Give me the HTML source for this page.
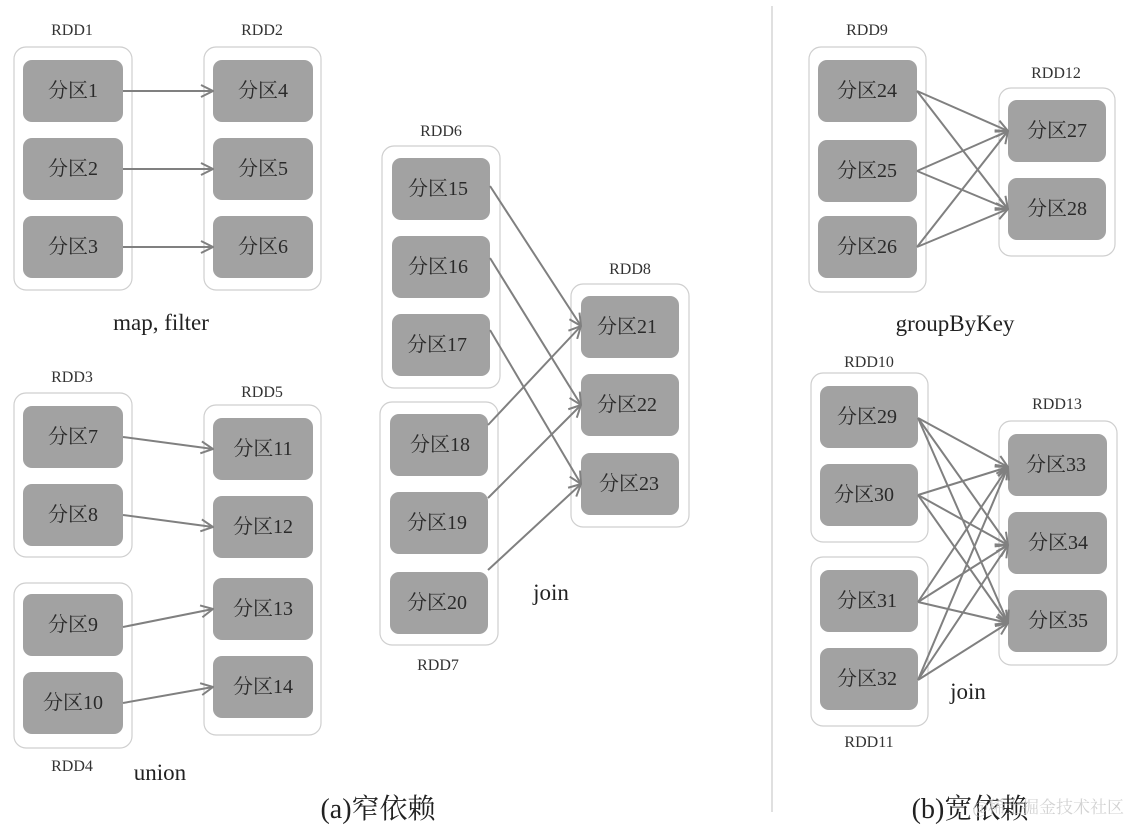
<!DOCTYPE html>
<html><head><meta charset="utf-8"><style>
html,body{margin:0;padding:0;background:#fff;}
svg{display:block;}
text{font-family:"Liberation Serif","Noto Serif CJK SC",serif;fill:#222;}
.p{font-size:20px;text-anchor:middle;dominant-baseline:central;fill:#2a2a2a;}
.l{font-size:16px;text-anchor:middle;fill:#333;}
.c{fill:none;stroke:#cfcfcf;stroke-width:1.2;}
.b{fill:#a2a2a2;}
.a{stroke:#808080;stroke-width:2;fill:none;marker-end:url(#m);}
</style></head><body>
<svg width="1130" height="825" viewBox="0 0 1130 825" xmlns="http://www.w3.org/2000/svg">
<defs><marker id="m" viewBox="0 0 14 14" refX="13" refY="7" markerWidth="14" markerHeight="14" markerUnits="userSpaceOnUse" orient="auto"><path d="M1,1 L13,7 L1,13" fill="none" stroke="#808080" stroke-width="2"/></marker></defs>
<line x1="772" y1="6" x2="772" y2="812" stroke="#ccc" stroke-width="1.2"/>

<!-- RDD1/RDD2 -->
<text class="l" x="72" y="35">RDD1</text><text class="l" x="262" y="35">RDD2</text>
<rect class="c" x="14" y="47" width="118" height="243" rx="12"/>
<rect class="c" x="204" y="47" width="117" height="243" rx="12"/>
<g class="b">
<rect x="23" y="60" width="100" height="62" rx="9"/><rect x="23" y="138" width="100" height="62" rx="9"/><rect x="23" y="216" width="100" height="62" rx="9"/>
<rect x="213" y="60" width="100" height="62" rx="9"/><rect x="213" y="138" width="100" height="62" rx="9"/><rect x="213" y="216" width="100" height="62" rx="9"/>
</g>
<text class="p" x="73" y="91">分区1</text><text class="p" x="73" y="169">分区2</text><text class="p" x="73" y="247">分区3</text>
<text class="p" x="263" y="91">分区4</text><text class="p" x="263" y="169">分区5</text><text class="p" x="263" y="247">分区6</text>
<line class="a" x1="123" y1="91" x2="213" y2="91"/><line class="a" x1="123" y1="169" x2="213" y2="169"/><line class="a" x1="123" y1="247" x2="213" y2="247"/>
<text x="161" y="330" style="font-size:23px;text-anchor:middle">map, filter</text>

<!-- RDD3/4/5 -->
<text class="l" x="72" y="382">RDD3</text><text class="l" x="262" y="397">RDD5</text><text class="l" x="72" y="771">RDD4</text>
<rect class="c" x="14" y="393" width="118" height="164" rx="12"/>
<rect class="c" x="14" y="583" width="118" height="165" rx="12"/>
<rect class="c" x="204" y="405" width="117" height="330" rx="12"/>
<g class="b">
<rect x="23" y="406" width="100" height="62" rx="9"/><rect x="23" y="484" width="100" height="62" rx="9"/>
<rect x="23" y="594" width="100" height="62" rx="9"/><rect x="23" y="672" width="100" height="62" rx="9"/>
<rect x="213" y="418" width="100" height="62" rx="9"/><rect x="213" y="496" width="100" height="62" rx="9"/>
<rect x="213" y="578" width="100" height="62" rx="9"/><rect x="213" y="656" width="100" height="62" rx="9"/>
</g>
<text class="p" x="73" y="437">分区7</text><text class="p" x="73" y="515">分区8</text><text class="p" x="73" y="625">分区9</text><text class="p" x="73" y="703">分区10</text>
<text class="p" x="263" y="449">分区11</text><text class="p" x="263" y="527">分区12</text><text class="p" x="263" y="609">分区13</text><text class="p" x="263" y="687">分区14</text>
<line class="a" x1="123" y1="437" x2="213" y2="449"/><line class="a" x1="123" y1="515" x2="213" y2="527"/>
<line class="a" x1="123" y1="627" x2="213" y2="609"/><line class="a" x1="123" y1="703" x2="213" y2="687"/>
<text x="160" y="780" style="font-size:23px;text-anchor:middle">union</text>

<!-- RDD6/7/8 -->
<text class="l" x="441" y="136">RDD6</text><text class="l" x="438" y="670">RDD7</text><text class="l" x="630" y="274">RDD8</text>
<rect class="c" x="382" y="146" width="118" height="242" rx="12"/>
<rect class="c" x="380" y="402" width="118" height="243" rx="12"/>
<rect class="c" x="571" y="284" width="118" height="243" rx="12"/>
<g class="b">
<rect x="392" y="158" width="98" height="62" rx="9"/><rect x="392" y="236" width="98" height="62" rx="9"/><rect x="392" y="314" width="98" height="62" rx="9"/>
<rect x="390" y="414" width="98" height="62" rx="9"/><rect x="390" y="492" width="98" height="62" rx="9"/><rect x="390" y="572" width="98" height="62" rx="9"/>
<rect x="581" y="296" width="98" height="62" rx="9"/><rect x="581" y="374" width="98" height="62" rx="9"/><rect x="581" y="453" width="98" height="62" rx="9"/>
</g>
<text class="p" x="438" y="189">分区15</text><text class="p" x="438" y="267">分区16</text><text class="p" x="437" y="345">分区17</text>
<text class="p" x="440" y="445">分区18</text><text class="p" x="437" y="523">分区19</text><text class="p" x="437" y="603">分区20</text>
<text class="p" x="627" y="327">分区21</text><text class="p" x="627" y="405">分区22</text><text class="p" x="629" y="484">分区23</text>
<line class="a" x1="490" y1="186" x2="581" y2="326"/><line class="a" x1="490" y1="258" x2="581" y2="405"/><line class="a" x1="490" y1="330" x2="581" y2="484"/>
<line class="a" x1="488" y1="425" x2="581" y2="326"/><line class="a" x1="488" y1="498" x2="581" y2="405"/><line class="a" x1="488" y1="570" x2="581" y2="484"/>
<text x="551" y="600" style="font-size:23px;text-anchor:middle">join</text>

<!-- RDD9/12 -->
<text class="l" x="867" y="35">RDD9</text><text class="l" x="1056" y="78">RDD12</text>
<rect class="c" x="809" y="47" width="117" height="245" rx="12"/>
<rect class="c" x="999" y="88" width="116" height="168" rx="12"/>
<g class="b">
<rect x="818" y="60" width="99" height="62" rx="9"/><rect x="818" y="140" width="99" height="62" rx="9"/><rect x="818" y="216" width="99" height="62" rx="9"/>
<rect x="1008" y="100" width="98" height="62" rx="9"/><rect x="1008" y="178" width="98" height="62" rx="9"/>
</g>
<text class="p" x="867" y="91">分区24</text><text class="p" x="867" y="171">分区25</text><text class="p" x="867" y="247">分区26</text>
<text class="p" x="1057" y="131">分区27</text><text class="p" x="1057" y="209">分区28</text>
<line class="a" x1="917" y1="91" x2="1008" y2="131"/><line class="a" x1="917" y1="91" x2="1008" y2="209"/>
<line class="a" x1="917" y1="171" x2="1008" y2="131"/><line class="a" x1="917" y1="171" x2="1008" y2="209"/>
<line class="a" x1="917" y1="247" x2="1008" y2="131"/><line class="a" x1="917" y1="247" x2="1008" y2="209"/>
<text x="955" y="331" style="font-size:23px;text-anchor:middle">groupByKey</text>

<!-- RDD10/11/13 -->
<text class="l" x="869" y="367">RDD10</text><text class="l" x="869" y="747">RDD11</text><text class="l" x="1057" y="409">RDD13</text>
<rect class="c" x="811" y="373" width="117" height="169" rx="12"/>
<rect class="c" x="811" y="557" width="117" height="169" rx="12"/>
<rect class="c" x="999" y="421" width="118" height="244" rx="12"/>
<g class="b">
<rect x="820" y="386" width="98" height="62" rx="9"/><rect x="820" y="464" width="98" height="62" rx="9"/>
<rect x="820" y="570" width="98" height="62" rx="9"/><rect x="820" y="648" width="98" height="62" rx="9"/>
<rect x="1008" y="434" width="99" height="62" rx="9"/><rect x="1008" y="512" width="99" height="62" rx="9"/><rect x="1008" y="590" width="99" height="62" rx="9"/>
</g>
<text class="p" x="867" y="417">分区29</text><text class="p" x="864" y="495">分区30</text><text class="p" x="867" y="601">分区31</text><text class="p" x="867" y="679">分区32</text>
<text class="p" x="1056" y="465">分区33</text><text class="p" x="1058" y="543">分区34</text><text class="p" x="1058" y="621">分区35</text>
<g>
<line class="a" x1="918" y1="418" x2="1008" y2="467"/><line class="a" x1="918" y1="418" x2="1008" y2="545"/><line class="a" x1="918" y1="418" x2="1008" y2="623"/>
<line class="a" x1="918" y1="495" x2="1008" y2="467"/><line class="a" x1="918" y1="495" x2="1008" y2="545"/><line class="a" x1="918" y1="495" x2="1008" y2="623"/>
<line class="a" x1="918" y1="602" x2="1008" y2="467"/><line class="a" x1="918" y1="602" x2="1008" y2="545"/><line class="a" x1="918" y1="602" x2="1008" y2="623"/>
<line class="a" x1="918" y1="680" x2="1008" y2="467"/><line class="a" x1="918" y1="680" x2="1008" y2="545"/><line class="a" x1="918" y1="680" x2="1008" y2="623"/>
</g>
<text x="968" y="699" style="font-size:23px;text-anchor:middle">join</text>

<text x="378" y="818" style="font-size:28px;text-anchor:middle">(a)窄依赖</text>
<text x="970" y="818" style="font-size:28px;text-anchor:middle">(b)宽依赖</text>
<text x="1124" y="813" style="font-size:17px;text-anchor:end;fill:#c8c8c8;opacity:0.8">@稀土掘金技术社区</text>
</svg>
</body></html>
